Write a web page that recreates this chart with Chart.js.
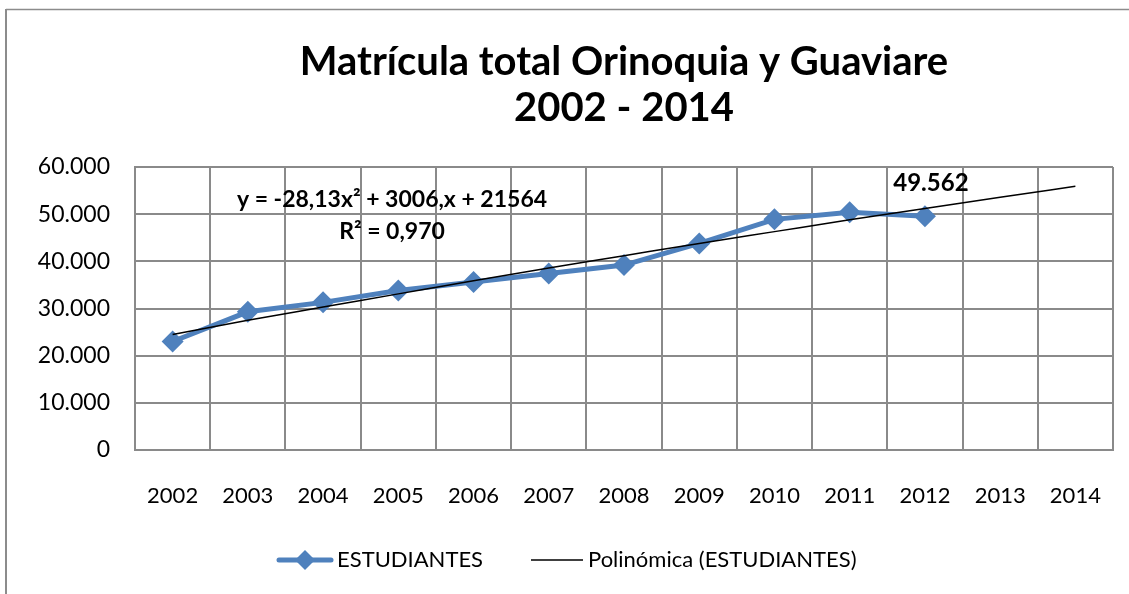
<!DOCTYPE html>
<html>
<head>
<meta charset="utf-8">
<title>Matrícula total Orinoquia y Guaviare</title>
<script src="https://cdn.jsdelivr.net/npm/chart.js@4.4.1/dist/chart.umd.min.js"></script>
<style>
  html, body { margin: 0; padding: 0; background: #fff; }
  #wrap { position: relative; width: 1129px; height: 594px; }
</style>
</head>
<body>
<div id="wrap"><canvas id="chart" width="1129" height="594"></canvas></div>
<script>
/* ── data ── */
const years = ['2002', '2003', '2004', '2005', '2006', '2007', '2008', '2009', '2010', '2011', '2012', '2013', '2014'];
const estudiantes = [23000, 29300, 31300, 33800, 35600, 37400, 39200, 43800, 48900, 50400, 49562, null, null];
const polinomica = [24500, 27500, 30300, 33100, 35900, 38600, 41200, 43800, 46300, 48800, 51200, 53600, 55900];
const yTickLabels = ['0', '10.000', '20.000', '30.000', '40.000', '50.000', '60.000'];
const equation = 'y = -28,13x² + 3006,x + 21564';
const rSquared = 'R² = 0,970';
const lastLabel = '49.562';

const FONT = "Lato, 'Open Sans', sans-serif";
const BLUE = '#4F81BD';
const GRID = '#8a8a8a';

/* ── frame, trend text, data label, legend ── */
const extras = {
  id: 'extras',
  afterDraw(chart) {
    const c = chart.ctx;
    const x = chart.scales.x, y = chart.scales.y;
    c.save();

    // outer frame (left + top)
    c.strokeStyle = '#8c8c8c';
    c.lineWidth = 2;
    c.beginPath(); c.moveTo(6, 9); c.lineTo(6, 594); c.stroke();
    c.lineWidth = 1.5;
    c.beginPath(); c.moveTo(6, 9.5); c.lineTo(1129, 9.5); c.stroke();

    // trend equation
    c.fillStyle = '#000';
    c.textAlign = 'center';
    c.textBaseline = 'middle';
    c.font = `bold 23px ${FONT}`;
    c.fillText(equation, 392, 200);
    c.fillText(rSquared, 392, 232);

    // data label for 2012
    const i = estudiantes.indexOf(49562);
    c.font = `bold 24px ${FONT}`;
    c.fillText(lastLabel, x.getPixelForValue(i) + 6, y.getPixelForValue(estudiantes[i]) - 33);

    // legend
    const ly = 560;
    c.strokeStyle = BLUE;
    c.lineWidth = 5;
    c.lineCap = 'round';
    c.beginPath(); c.moveTo(279, ly); c.lineTo(331, ly); c.stroke();
    c.fillStyle = BLUE;
    c.beginPath();
    c.moveTo(305, ly - 10); c.lineTo(315, ly); c.lineTo(305, ly + 10); c.lineTo(295, ly);
    c.closePath(); c.fill();
    c.strokeStyle = '#000';
    c.lineWidth = 1.5;
    c.lineCap = 'butt';
    c.beginPath(); c.moveTo(531, ly); c.lineTo(583, ly); c.stroke();
    c.fillStyle = '#000';
    c.textAlign = 'left';
    c.font = `22px ${FONT}`;
    c.fillText('ESTUDIANTES', 337, ly);
    c.fillText('Polinómica (ESTUDIANTES)', 588, ly);
    c.restore();
  }
};

const ctx = document.getElementById('chart');
new Chart(ctx, {
  type: 'line',
  data: {
    labels: years,
    datasets: [
      {
        label: 'ESTUDIANTES',
        data: estudiantes,
        borderColor: BLUE,
        backgroundColor: BLUE,
        borderWidth: 5,
        pointStyle: 'rectRot',
        pointRadius: 11,
        pointHoverRadius: 11,
        pointBorderWidth: 0,
        tension: 0,
        order: 1
      },
      {
        label: 'Polinómica (ESTUDIANTES)',
        data: polinomica,
        borderColor: '#000',
        borderWidth: 1.5,
        pointRadius: 0,
        cubicInterpolationMode: 'monotone',
        order: 0
      }
    ]
  },
  options: {
    responsive: false,
    animation: false,
    devicePixelRatio: 1,
    layout: { padding: { top: 0, right: 16, bottom: 74, left: 0 } },
    plugins: {
      legend: { display: false },
      tooltip: { enabled: false },
      title: {
        display: true,
        fullSize: false,
        text: ['Matrícula total Orinoquia y Guaviare', '2002 - 2014'],
        color: '#000',
        font: { family: FONT, size: 40, weight: 'bold', lineHeight: 1.15 },
        padding: { top: 39, bottom: 36 }
      }
    },
    scales: {
      x: {
        offset: true,
        grid: { offset: true, color: GRID, lineWidth: 2, drawTicks: true, tickLength: 30, tickColor: 'rgba(0,0,0,0)' },
        border: { color: GRID, width: 2 },
        ticks: { color: '#000', font: { family: FONT, size: 22 }, padding: 3, maxRotation: 0, autoSkip: false },
        afterFit: s => { s.height = 70; }
      },
      y: {
        min: 0, max: 60000,
        grid: { color: GRID, lineWidth: 2, drawTicks: false },
        border: { color: GRID, width: 2 },
        ticks: {
          stepSize: 10000,
          color: '#000',
          font: { family: FONT, size: 23 },
          padding: 25,
          callback: (v, i) => yTickLabels[i]
        },
        afterFit: s => { s.width = 135; }
      }
    }
  },
  plugins: [extras]
});
</script>
</body>
</html>
